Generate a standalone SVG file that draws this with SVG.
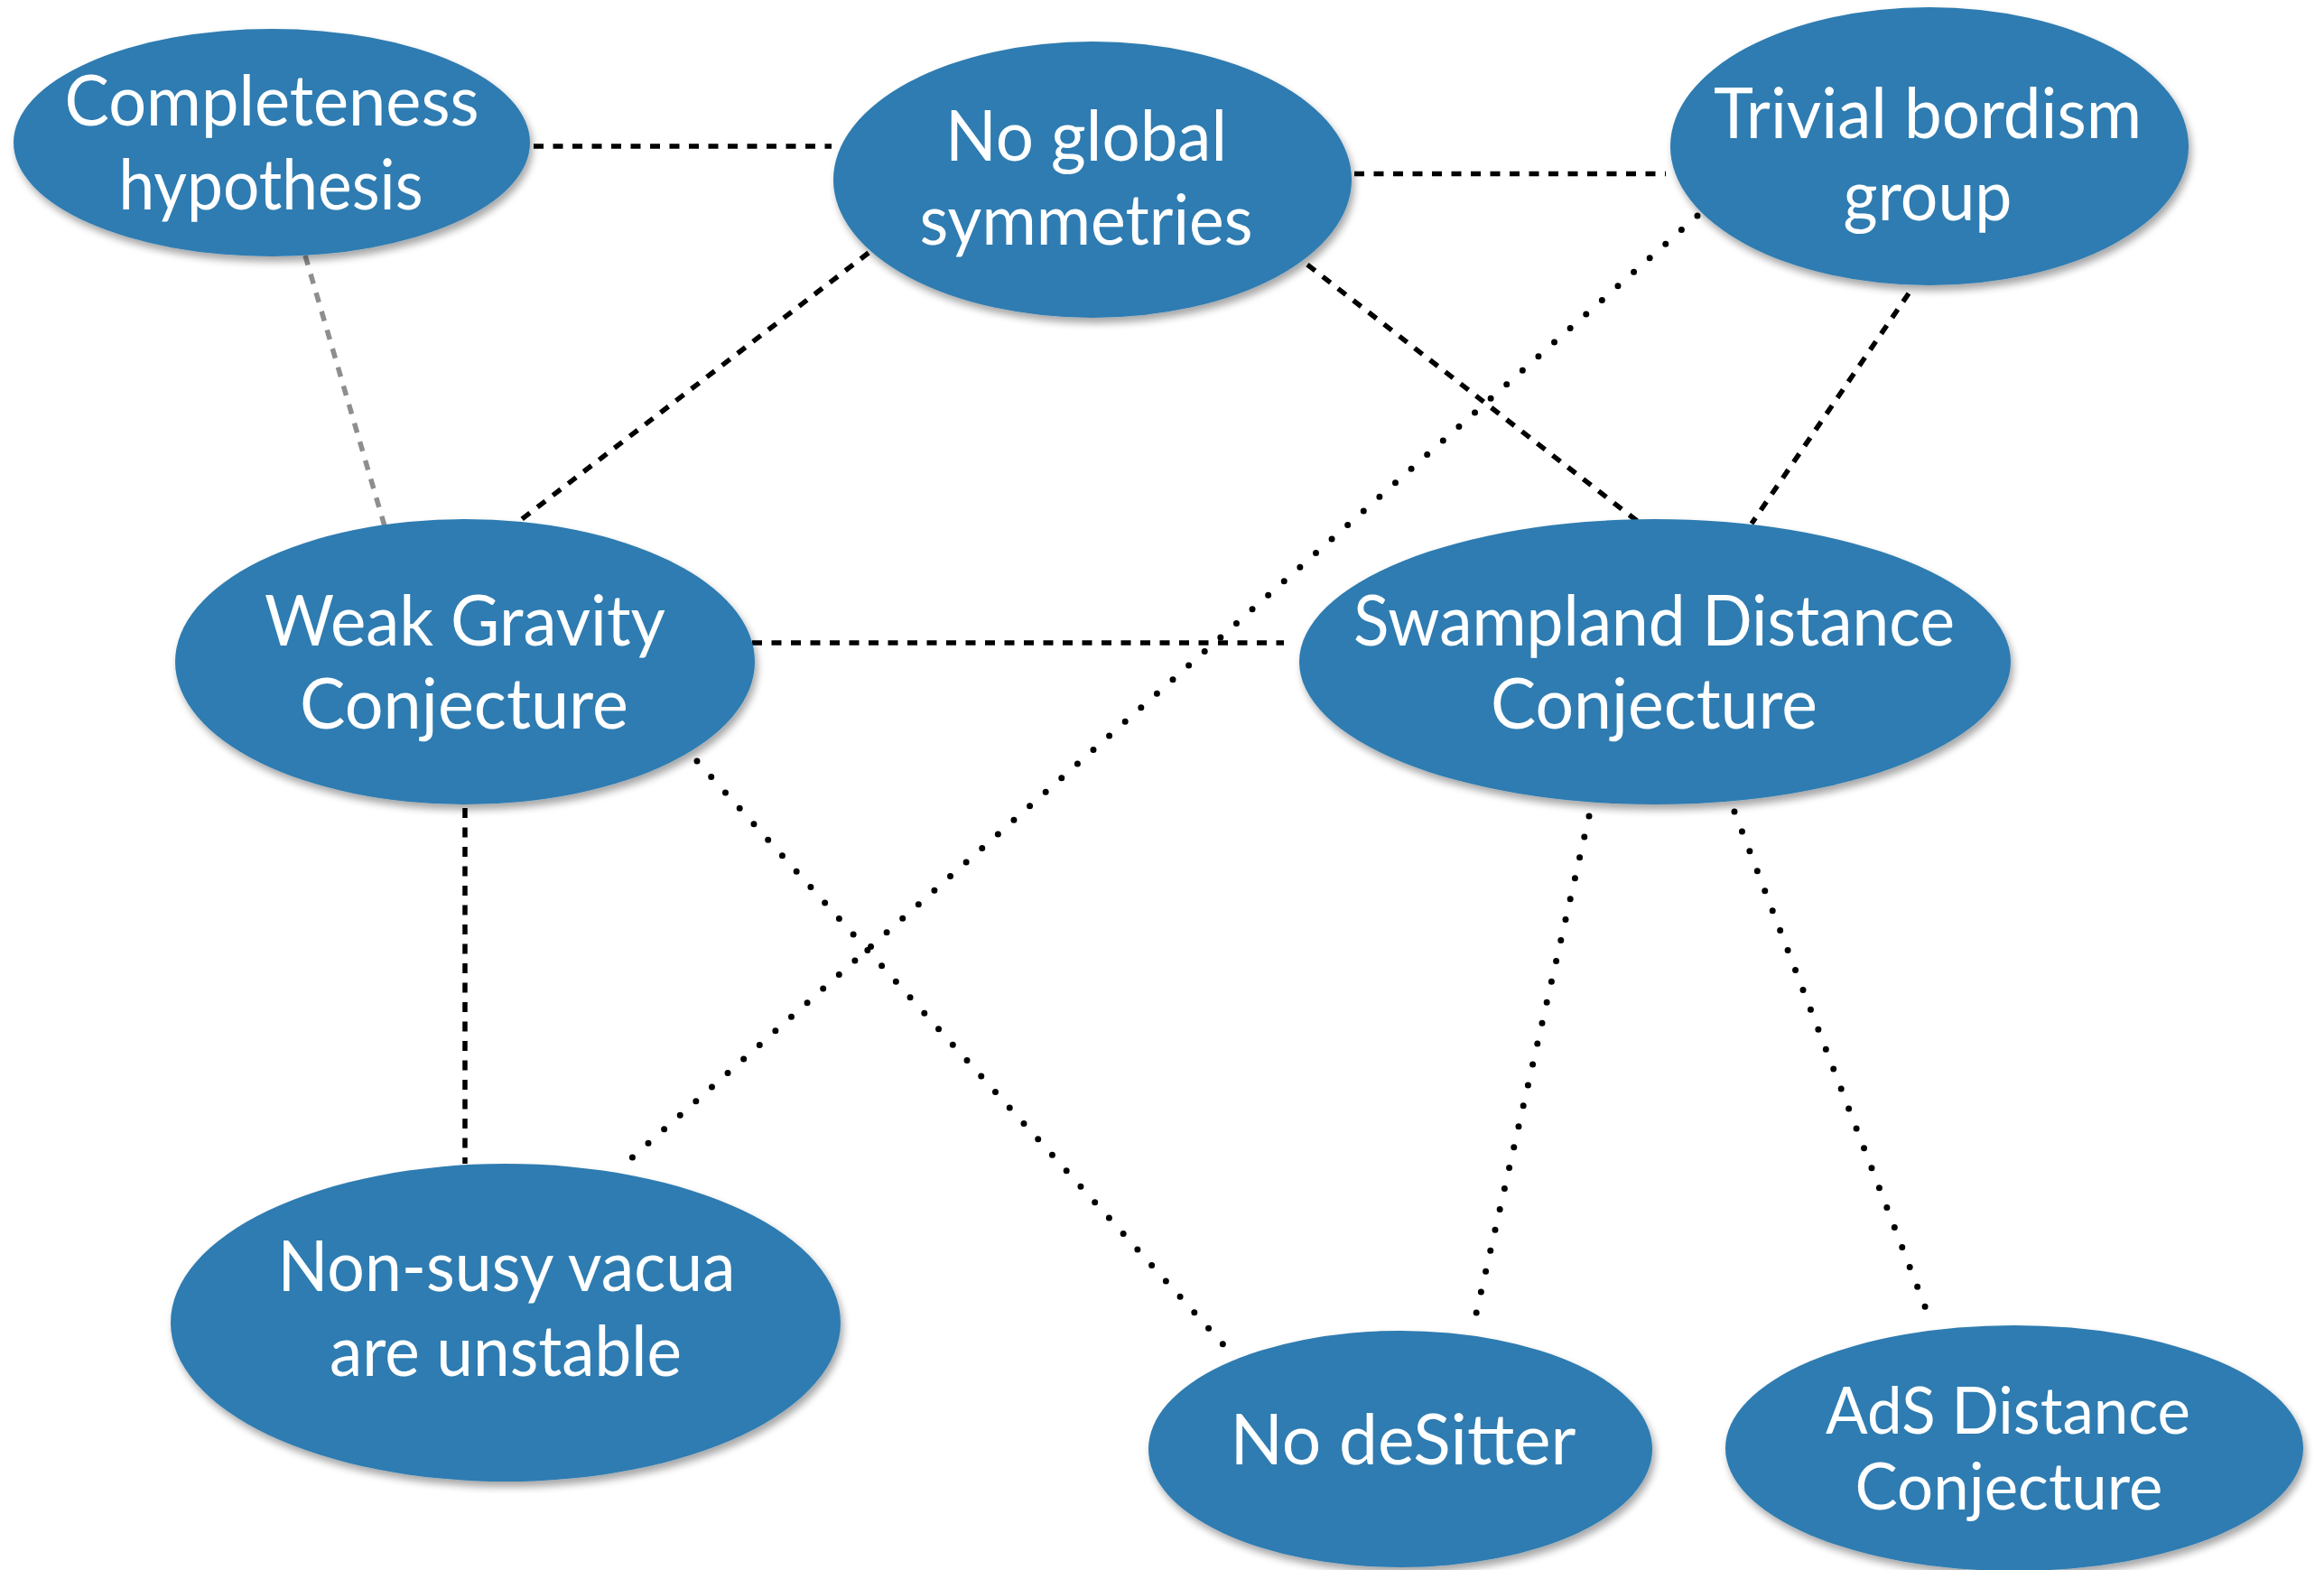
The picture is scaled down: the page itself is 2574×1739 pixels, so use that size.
<svg xmlns="http://www.w3.org/2000/svg" width="2574" height="1739" viewBox="0 0 2574 1739">
<style>
.node ellipse{fill:#2f7cb1;filter:url(#sh)}
.node text{font-family:"Lato","Open Sans","DejaVu Sans",sans-serif;font-size:77px;fill:#ffffff;text-anchor:middle}
.node text.s{font-size:71px}
.dash{stroke:#000;stroke-width:5.5;stroke-dasharray:11 10.5;fill:none}
.gray{stroke:#8e8e8e;stroke-width:5.5;stroke-dasharray:11 10.5;fill:none}
.dot{stroke:#000;stroke-width:7;stroke-dasharray:0 23.5;stroke-linecap:round;fill:none}
</style>
<defs>
<filter id="sh" x="-10%" y="-10%" width="125%" height="130%">
<feGaussianBlur in="SourceAlpha" stdDeviation="4"/>
<feOffset dx="3" dy="6" result="b"/>
<feComponentTransfer><feFuncA type="linear" slope="0.35"/></feComponentTransfer>
<feMerge><feMergeNode/><feMergeNode in="SourceGraphic"/></feMerge>
</filter>
</defs>
<rect width="2574" height="1739" fill="#ffffff"/>
<g id="connectors">
<line class="dash" x1="591" y1="162" x2="921" y2="162"/>
<line class="dash" x1="1500" y1="192.5" x2="1845" y2="192.5"/>
<line class="gray" x1="338" y1="283" x2="429" y2="593"/>
<line class="dash" x1="962" y1="280" x2="565" y2="585"/>
<line class="dash" x1="1431" y1="280" x2="1835" y2="594"/>
<line class="dash" x1="2114" y1="325" x2="1940" y2="580"/>
<line class="dot" x1="1880" y1="239" x2="689" y2="1292"/>
<line class="dash" x1="833" y1="712" x2="1422" y2="712"/>
<line class="dash" x1="515" y1="895" x2="515" y2="1289"/>
<line class="dot" x1="772" y1="843" x2="1369" y2="1505"/>
<line class="dot" x1="1760" y1="904" x2="1632" y2="1468"/>
<line class="dot" x1="1921" y1="899" x2="2137" y2="1460"/>
</g>
<g id="completeness" class="node">
<ellipse cx="301" cy="158" rx="286" ry="126"/>
<text x="301" y="139" textLength="459" lengthAdjust="spacingAndGlyphs">Completeness</text>
<text x="300" y="232" textLength="337" lengthAdjust="spacingAndGlyphs">hypothesis</text>
</g>
<g id="noglobal" class="node">
<ellipse cx="1210" cy="199" rx="287" ry="153"/>
<text x="1203" y="178" textLength="312" lengthAdjust="spacingAndGlyphs">No global</text>
<text x="1203" y="271" textLength="369" lengthAdjust="spacingAndGlyphs">symmetries</text>
</g>
<g id="trivial" class="node">
<ellipse cx="2137" cy="162" rx="287" ry="154"/>
<text x="2135" y="153" textLength="474" lengthAdjust="spacingAndGlyphs">Trivial bordism</text>
<text x="2135" y="244" textLength="187" lengthAdjust="spacingAndGlyphs">group</text>
</g>
<g id="wgc" class="node">
<ellipse cx="515" cy="733" rx="321" ry="158"/>
<text x="515" y="715" textLength="444" lengthAdjust="spacingAndGlyphs">Weak Gravity</text>
<text x="514" y="807" textLength="364" lengthAdjust="spacingAndGlyphs">Conjecture</text>
</g>
<g id="sdc" class="node">
<ellipse cx="1833" cy="733" rx="394" ry="158"/>
<text x="1832" y="715" textLength="666" lengthAdjust="spacingAndGlyphs">Swampland Distance</text>
<text x="1832" y="807" textLength="362" lengthAdjust="spacingAndGlyphs">Conjecture</text>
</g>
<g id="nonsusy" class="node">
<ellipse cx="560" cy="1465" rx="371" ry="176"/>
<text x="561" y="1430" textLength="507" lengthAdjust="spacingAndGlyphs">Non-susy vacua</text>
<text x="560" y="1524" textLength="390" lengthAdjust="spacingAndGlyphs">are unstable</text>
</g>
<g id="nodesitter" class="node">
<ellipse cx="1551" cy="1605" rx="279" ry="131"/>
<text x="1554" y="1622" textLength="383" lengthAdjust="spacingAndGlyphs">No deSitter</text>
</g>
<g id="ads" class="node">
<ellipse cx="2231" cy="1604" rx="320" ry="136"/>
<text class="s" x="2224" y="1588" textLength="404" lengthAdjust="spacingAndGlyphs">AdS Distance</text>
<text class="s" x="2225" y="1672" textLength="341" lengthAdjust="spacingAndGlyphs">Conjecture</text>
</g>
</svg>
